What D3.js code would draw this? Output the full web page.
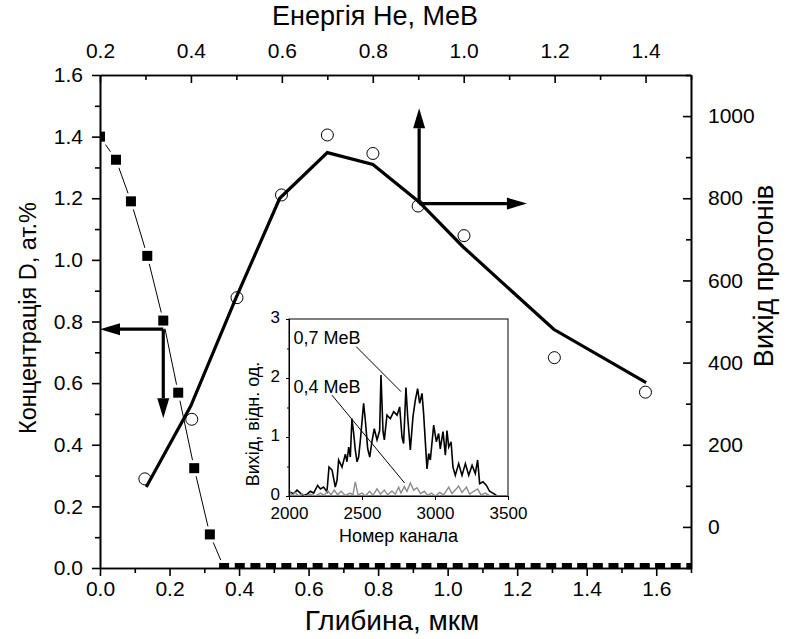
<!DOCTYPE html>
<html lang="uk">
<head>
<meta charset="utf-8" />
<title>Профіль D та вихід протонів</title>
<script src="https://d3js.org/d3.v7.min.js"></script>
<style>
  body { margin: 0; background: #fff; }
  svg  { display: block; font-family: "Liberation Sans", Arial, Helvetica, sans-serif; }
  .axis path, .axis line { stroke: #000; stroke-width: 1.6px; }
  .axis text { font-size: 21px; fill: #000; font-family: "Liberation Sans", Arial, sans-serif; }
  .inset .axis path, .inset .axis line { stroke-width: 1px; }
  .inset .axis text { font-size: 17px; }
  .title { fill: #000; }
  .ititle { font-size: 18px; fill: #000; }
</style>
</head>
<body>
<svg id="chart" width="790" height="639"></svg>
<script>
// ---- data ----
// D concentration profile (depth, um  /  at.%)
const concDepth = [0.000, 0.046, 0.089, 0.136, 0.182, 0.225, 0.271, 0.316,
  0.357, 0.402, 0.447, 0.492, 0.536, 0.581, 0.626, 0.671, 0.716, 0.760, 0.805,
  0.850, 0.895, 0.939, 0.984, 1.029, 1.074, 1.119, 1.163, 1.208, 1.253, 1.298,
  1.343, 1.387, 1.432, 1.477, 1.522, 1.567, 1.611, 1.656, 1.701];
const concValue = [1.400, 1.325, 1.190, 1.013, 0.803, 0.569, 0.324, 0.109,
  0, 0, 0, 0, 0, 0, 0, 0, 0, 0, 0, 0, 0, 0, 0, 0, 0, 0, 0, 0, 0, 0, 0,
  0, 0, 0, 0, 0, 0, 0, 0];

// measured proton yield (open circles)
const yieldDepth = [0.129, 0.264, 0.394, 0.522, 0.654, 0.785, 0.915, 1.047, 1.307, 1.569];
const yieldMeas  = [117, 262, 558, 808, 954, 909, 781, 709, 412, 328];

// calculated proton yield (thick line)
const calcDepth = [0.133, 0.261, 0.390, 0.517, 0.654, 0.785, 0.918, 1.044, 1.305, 1.571];
const calcYield = [97, 294, 555, 800, 911, 882, 791, 682, 481, 351];

// inset spectra: channel number / yield, arb. units
const spec07Ch = [2000, 2032, 2055, 2078, 2100, 2123, 2146, 2169, 2196, 2215, 2237, 2260,
  2274, 2295, 2317, 2329, 2340, 2363, 2386, 2397, 2409, 2420, 2431, 2443, 2454, 2466,
  2477, 2489, 2511, 2523, 2539, 2553, 2568, 2584, 2603, 2621, 2630, 2644, 2653, 2671,
  2694, 2717, 2740, 2758, 2774, 2785, 2801, 2813, 2831, 2849, 2865, 2881, 2895, 2911,
  2922, 2945, 2957, 2968, 2991, 3009, 3025, 3036, 3055, 3071, 3082, 3094, 3110, 3123,
  3139, 3162, 3185, 3208, 3231, 3254, 3276, 3292, 3306, 3329, 3352, 3374, 3402, 3425,
  3459, 3500];
const spec07Val = [0.07, 0.04, 0.10, 0.05, 0.01, 0.03, 0.08, 0.05, 0.18, 0.12, 0.15, 0.07,
  0.49, 0.44, 0.15, 0.27, 0.61, 0.49, 0.71, 0.58, 0.83, 0.66, 1.31, 1.06, 0.78, 0.58,
  0.66, 0.95, 1.57, 1.28, 0.80, 0.66, 0.92, 1.14, 0.95, 1.11, 2.05, 1.09, 0.95, 1.37,
  1.31, 1.43, 1.37, 1.51, 1.00, 0.89, 1.84, 1.34, 0.78, 1.34, 1.62, 1.82, 1.57, 1.74,
  1.40, 0.46, 0.72, 0.61, 1.20, 0.92, 1.06, 0.80, 1.09, 0.69, 1.11, 0.83, 0.92, 0.49,
  0.35, 0.55, 0.35, 0.55, 0.35, 0.52, 0.38, 0.61, 0.21, 0.24, 0.18, 0.08, 0.04, 0,
  0, 0];

const spec04Ch = [2000, 2021, 2043, 2066, 2089, 2112, 2146, 2180, 2215, 2242, 2265, 2288,
  2310, 2333, 2356, 2386, 2420, 2438, 2454, 2473, 2500, 2523, 2552, 2575, 2603, 2626,
  2653, 2676, 2705, 2728, 2751, 2767, 2790, 2808, 2831, 2854, 2877, 2900, 2927, 2950,
  2975, 3002, 3032, 3059, 3094, 3116, 3139, 3162, 3185, 3215, 3237, 3265, 3292, 3315,
  3345, 3379, 3500];
const spec04Val = [0.08, 0.01, 0.06, 0.00, 0.04, 0.00, 0.03, 0.00, 0.05, 0.01, 0.09, 0.02,
  0.10, 0.02, 0.08, 0.01, 0.05, 0.02, 0.24, 0.02, 0.05, 0.00, 0.08, 0.01, 0.12, 0.03,
  0.10, 0.02, 0.08, 0.03, 0.15, 0.05, 0.16, 0.08, 0.22, 0.10, 0.14, 0.04, 0.08, 0.01,
  0.05, 0.00, 0.06, 0.02, 0.15, 0.04, 0.10, 0.17, 0.06, 0.15, 0.03, 0.08, 0.12, 0.02,
  0.05, 0.00, 0.00];

// tick values
const depthTicks  = [0.0, 0.2, 0.4, 0.6, 0.8, 1.0, 1.2, 1.4, 1.6];
const energyTicks = [0.2, 0.4, 0.6, 0.8, 1.0, 1.2, 1.4];
const concTicks   = [0.0, 0.2, 0.4, 0.6, 0.8, 1.0, 1.2, 1.4, 1.6];
const yieldTicks  = [0, 200, 400, 600, 800, 1000];
const chTicks     = [2000, 2500, 3000, 3500];
const specTicks   = [0, 1, 2, 3];

// ---- layout ----
const svg = d3.select("#chart");
const L = 100, R = 691, T = 75, B = 568;

const x    = d3.scaleLinear().domain([0, 1.7]).range([L, R]);
const xTop = d3.scaleLinear().domain([0.2, 1.5]).range([L, R]);
const yL   = d3.scaleLinear().domain([0, 1.6]).range([B, T]);
const yR   = d3.scaleLinear().domain([-100, 1100]).range([B, T]);

svg.append("clipPath").attr("id", "plotclip")
  .append("rect").attr("x", L).attr("y", T).attr("width", R - L).attr("height", B - T);

const plot = svg.append("g").attr("clip-path", "url(#plotclip)");

// concentration: thin line, white halo, black squares
const conc = concDepth.map((d, i) => ({ x: d, y: concValue[i] }));
plot.append("path")
  .datum(conc)
  .attr("fill", "none").attr("stroke", "#000").attr("stroke-width", 1)
  .attr("d", d3.line().x(d => x(d.x)).y(d => yL(d.y)));
plot.selectAll("rect.halo").data(conc).enter().append("rect")
  .attr("class", "halo")
  .attr("x", d => x(d.x) - 8).attr("y", d => yL(d.y) - 8)
  .attr("width", 16).attr("height", 16).attr("fill", "#fff");
plot.selectAll("rect.sq").data(conc).enter().append("rect")
  .attr("class", "sq")
  .attr("x", d => x(d.x) - 5).attr("y", d => yL(d.y) - 5)
  .attr("width", 10).attr("height", 10).attr("fill", "#000");

// measured yield circles
plot.selectAll("circle").data(yieldDepth).enter().append("circle")
  .attr("cx", d => x(d)).attr("cy", (d, i) => yR(yieldMeas[i]))
  .attr("r", 6).attr("fill", "none").attr("stroke", "#000").attr("stroke-width", 1);

// calculated yield
plot.append("path")
  .datum(calcDepth.map((d, i) => [d, calcYield[i]]))
  .attr("fill", "none").attr("stroke", "#000").attr("stroke-width", 3.2)
  .attr("stroke-linejoin", "miter")
  .attr("d", d3.line().x(d => x(d[0])).y(d => yR(d[1])));

// arrows (which axis belongs to which curve)
function arrow(x0, y0, x1, y1) {
  const g = svg.append("g");
  const a = Math.atan2(y1 - y0, x1 - x0), len = 20, hw = 6;
  const bx = x1 - len * Math.cos(a), by = y1 - len * Math.sin(a);
  g.append("line").attr("x1", x0).attr("y1", y0).attr("x2", bx).attr("y2", by)
    .attr("stroke", "#000").attr("stroke-width", 3.2);
  g.append("path")
    .attr("d", `M${x1},${y1}L${bx - hw * Math.sin(a)},${by + hw * Math.cos(a)}` +
               `L${bx + hw * Math.sin(a)},${by - hw * Math.cos(a)}Z`)
    .attr("fill", "#000");
}
// left pair -> concentration axis
arrow(x(0.182), yL(0.775), x(0), yL(0.775));
arrow(x(0.182), yL(0.775), x(0.182), yL(0.486));
// right pair -> yield axis
arrow(x(0.918), yR(787), x(0.918), yR(1019));
arrow(x(0.918), yR(787), x(1.228), yR(787));

// ---- main axes ----
const fmt1 = d3.format(".1f");
svg.append("g").attr("class", "axis").attr("transform", `translate(0,${B})`)
  .call(d3.axisBottom(x).tickValues(depthTicks).tickFormat(fmt1).tickSize(8).tickSizeOuter(0).tickPadding(5));
svg.append("g").attr("class", "axis").attr("transform", `translate(0,${B})`)
  .call(d3.axisBottom(x).tickValues(depthTicks.map(d => d + 0.1)).tickFormat("").tickSize(5).tickSizeOuter(0));

svg.append("g").attr("class", "axis").attr("transform", `translate(0,${T})`)
  .call(d3.axisTop(xTop).tickValues(energyTicks).tickFormat(fmt1).tickSize(-8).tickSizeOuter(0).tickPadding(17));
svg.append("g").attr("class", "axis").attr("transform", `translate(0,${T})`)
  .call(d3.axisTop(xTop).tickValues(energyTicks.map(d => d + 0.1)).tickFormat("").tickSize(-5).tickSizeOuter(0));

svg.append("g").attr("class", "axis").attr("transform", `translate(${L},0)`)
  .call(d3.axisLeft(yL).tickValues(concTicks).tickFormat(fmt1).tickSize(8).tickSizeOuter(0).tickPadding(9));
svg.append("g").attr("class", "axis").attr("transform", `translate(${L},0)`)
  .call(d3.axisLeft(yL).tickValues(concTicks.slice(0, -1).map(d => d + 0.1)).tickFormat("").tickSize(5).tickSizeOuter(0));

svg.append("g").attr("class", "axis").attr("transform", `translate(${R},0)`)
  .call(d3.axisRight(yR).tickValues(yieldTicks).tickFormat(d3.format("d")).tickSize(-8).tickSizeOuter(0).tickPadding(17));
svg.append("g").attr("class", "axis").attr("transform", `translate(${R},0)`)
  .call(d3.axisRight(yR).tickValues([-100].concat(yieldTicks.map(d => d + 100))).tickFormat("").tickSize(-5).tickSizeOuter(0));

// titles
svg.append("text").attr("class", "title").attr("text-anchor", "middle").style("font-size", "28px")
  .attr("x", 392).attr("y", 630).text("Глибина, мкм");
svg.append("text").attr("class", "title").attr("text-anchor", "middle").style("font-size", "27px")
  .attr("x", 375).attr("y", 25).text("Енергія He, MeB");
svg.append("text").attr("class", "title").attr("text-anchor", "middle").style("font-size", "23.5px")
  .attr("transform", "translate(36,318) rotate(-90)").text("Концентрація D, ат.%");
svg.append("text").attr("class", "title").attr("text-anchor", "middle").style("font-size", "27px")
  .attr("transform", "translate(773,276) rotate(-90)").text("Вихід протонів");

// ---- inset ----
const iL = 289, iR = 508, iT = 319, iB = 496;
const ix = d3.scaleLinear().domain([2000, 3500]).range([iL, iR]);
const iy = d3.scaleLinear().domain([0, 3]).range([iB, iT]);
const inset = svg.append("g").attr("class", "inset");

inset.append("rect").attr("x", iL).attr("y", iT).attr("width", iR - iL).attr("height", iB - iT)
  .attr("fill", "#fff").attr("stroke", "#000").attr("stroke-width", 1);

const sline = d3.line().x(d => ix(d[0])).y(d => iy(d[1]));
inset.append("path")
  .datum(spec07Ch.map((c, i) => [c, spec07Val[i]]))
  .attr("fill", "none").attr("stroke", "#000").attr("stroke-width", 1.6).attr("d", sline);
inset.append("path")
  .datum(spec04Ch.map((c, i) => [c, spec04Val[i]]))
  .attr("fill", "none").attr("stroke", "#8c8c8c").attr("stroke-width", 1.4).attr("d", sline);

// labels with leader lines
inset.append("line").attr("x1", ix(2461)).attr("y1", iy(2.53)).attr("x2", ix(2767)).attr("y2", iy(1.77))
  .attr("stroke", "#000").attr("stroke-width", 1);
inset.append("line").attr("x1", ix(2294)).attr("y1", iy(1.71)).attr("x2", ix(2792)).attr("y2", iy(0.22))
  .attr("stroke", "#000").attr("stroke-width", 1);
inset.append("text").attr("class", "ititle").attr("x", ix(2030)).attr("y", iy(2.58)).text("0,7 MeB");
inset.append("text").attr("class", "ititle").attr("x", ix(2030)).attr("y", iy(1.74)).text("0,4 MeB");

inset.append("g").attr("class", "axis").attr("transform", `translate(0,${iB})`)
  .call(d3.axisBottom(ix).tickValues(chTicks).tickFormat(d3.format("d")).tickSize(4).tickSizeOuter(0).tickPadding(7));
inset.append("g").attr("class", "axis").attr("transform", `translate(${iL},0)`)
  .call(d3.axisLeft(iy).tickValues(specTicks).tickFormat(d3.format("d")).tickSize(3).tickSizeOuter(0).tickPadding(6))
  .selectAll("text").attr("dy", "0.2em");
inset.append("g").attr("class", "axis").attr("transform", `translate(${iL},0)`)
  .call(d3.axisLeft(iy).tickValues([0.5, 1.5, 2.5]).tickFormat("").tickSize(2).tickSizeOuter(0));

inset.append("text").attr("class", "ititle").attr("text-anchor", "middle")
  .attr("x", (iL + iR) / 2).attr("y", 542).text("Номер канала");
inset.append("text").attr("class", "ititle").attr("text-anchor", "middle")
  .attr("transform", "translate(259,424) rotate(-90)").text("Вихід, відн. од.");
</script>
</body>
</html>
